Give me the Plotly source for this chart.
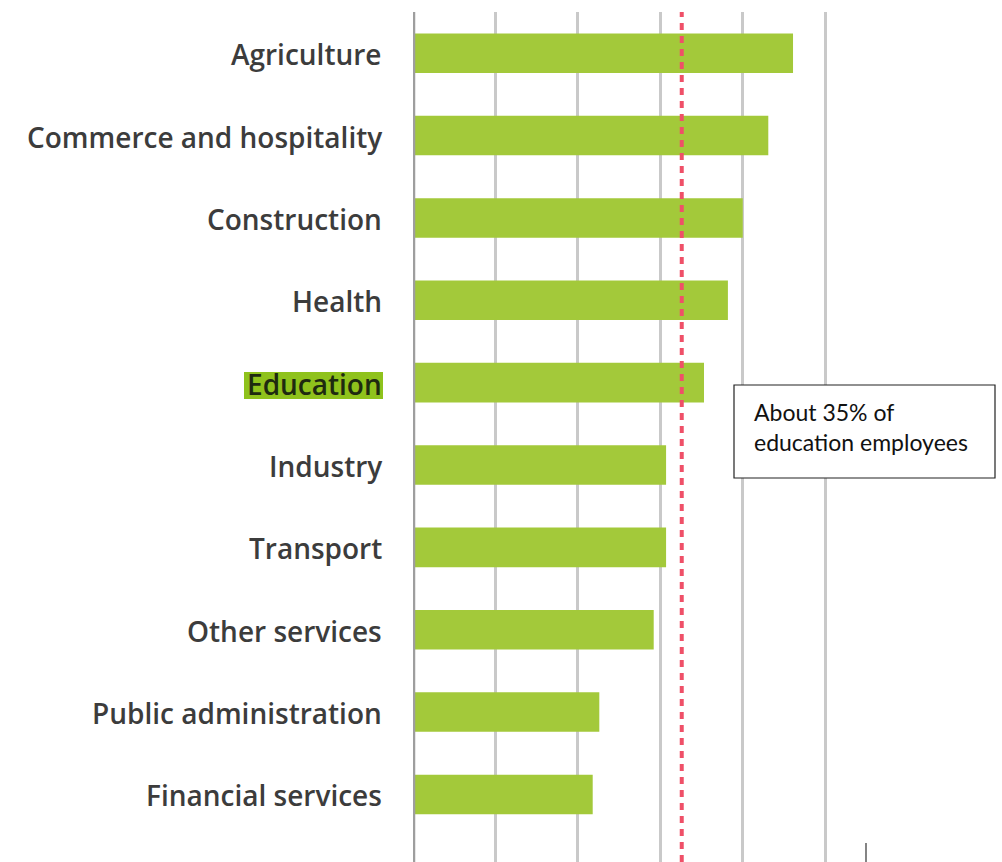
import plotly.graph_objects as go

# Share of employees by sector (%)
sectors = [
    "Agriculture",
    "Commerce and hospitality",
    "Construction",
    "Health",
    "Education",
    "Industry",
    "Transport",
    "Other services",
    "Public administration",
    "Financial services",
]
shares = [46.1, 43.1, 40.0, 38.2, 35.3, 30.7, 30.7, 29.2, 22.6, 21.8]
reference_line = 32.6
grid_ticks = [10, 20, 30, 40, 50]
note_lines = ["About 35% of", "education employees"]

BAR = "#a3c93a"
LABEL = "#3c3c3c"

# plot area in pixels
L, R, T, B = 413, 995, 12, 862
PW, PH = R - L, B - T


def px(x):
    return (x - L) / PW


def py(y):
    return 1 - (y - T) / PH


fig = go.Figure()
fig.add_trace(go.Bar(
    y=sectors,
    x=shares,
    orientation="h",
    marker=dict(color=BAR, line=dict(width=0)),
    width=0.48,
    hoverinfo="x+y",
))

fig.update_layout(
    width=1002,
    height=862,
    margin=dict(l=L, r=1002 - R, t=T, b=862 - B),
    plot_bgcolor="white",
    paper_bgcolor="white",
    showlegend=False,
    xaxis=dict(
        range=[0, 70.6],
        tickvals=grid_ticks,
        showticklabels=False,
        showgrid=True,
        gridcolor="#c9c9c9",
        gridwidth=2.5,
        zeroline=False,
        showline=False,
        fixedrange=True,
    ),
    yaxis=dict(
        type="category",
        categoryorder="array",
        categoryarray=sectors,
        range=[9.82, -0.5],
        showticklabels=False,
        showgrid=False,
        zeroline=False,
        showline=False,
        fixedrange=True,
    ),
)

# Axis baseline at zero
fig.add_shape(type="line", xref="x", yref="paper", x0=0, x1=0, y0=0, y1=1,
              line=dict(color="#9e9e9e", width=4.5), layer="above")

# Dashed reference line
fig.add_shape(type="line", xref="x", yref="paper",
              x0=reference_line, x1=reference_line, y0=0, y1=1,
              line=dict(color="#ef5068", width=4, dash="7px,6px"), layer="above")

# Highlight behind the Education label
fig.add_shape(type="rect", xref="paper", yref="paper",
              x0=px(244), x1=px(383), y0=py(372), y1=py(399),
              line=dict(width=0), fillcolor="#8fc21c", layer="below")

# Category labels to the left of the axis
for s in sectors:
    highlight = s == "Education"
    fig.add_annotation(
        x=0, xref="paper", y=s, yref="y",
        text=s, showarrow=False,
        xanchor="right", yanchor="middle", xshift=-29, yshift=-1,
        font=dict(family="Open Sans", size=28, color="#1e2a10" if highlight else LABEL,
                  weight=600),
    )

# Callout box
fig.add_shape(type="rect", xref="paper", yref="paper",
              x0=px(734), x1=px(995), y0=py(385), y1=py(478),
              line=dict(color="#222222", width=1.2), fillcolor="white", layer="above")
fig.add_annotation(
    xref="paper", yref="paper",
    x=px(752), y=py(396),
    text="<br>".join(note_lines), showarrow=False, align="left",
    xanchor="left", yanchor="top",
    font=dict(family="Lato", size=23, color="#111111"),
)

# Small vertical mark near the bottom edge
fig.add_shape(type="line", xref="paper", yref="paper",
              x0=px(866), x1=px(866), y0=0, y1=py(843),
              line=dict(color="#333333", width=1.2))

fig.write_html("out.html")
